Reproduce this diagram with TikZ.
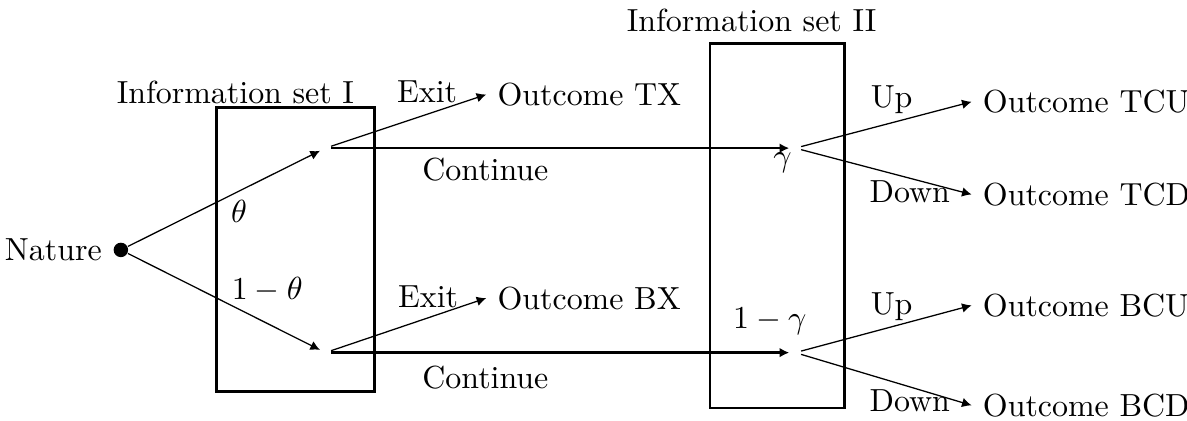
\documentclass[tikz,border=0pt]{standalone}
\usepackage{amsmath,amssymb}
\usepackage{tikz}
\usetikzlibrary{arrows.meta}
\tikzset{
  move/.style={-{Latex[length=3pt,width=3pt]},thin},
  cont/.style={-{Latex[length=3pt,width=3pt]},thick},
  infoset/.style={thick},
  decision/.style={circle,inner sep=1.2pt},
  outcome/.style={anchor=west}
}

\begin{document}
\begin{tikzpicture}
    \useasboundingbox (0,0) rectangle (13.06,4.63);
    % information sets
    \draw[infoset] (2.38,0.32) rectangle (4.12,3.45);
    \draw[infoset] (7.81,0.14) rectangle (9.29,4.15);
    \node at (2.59,3.61){Information set I};
    \node at (8.27,4.41){Information set II};
    % nodes
    \node[circle,fill,inner sep=1.6pt,label={left:Nature}] (nature) at (1.33,1.88){};
    \node[decision] (top) at (3.58,3.0){};
    \node[decision] (bot) at (3.58,0.75){};
    \node[decision] (gtop) at (8.75,3.0){};
    \node[decision] (gbot) at (8.75,0.75){};
    \node[outcome] (tx) at (5.35,3.59){Outcome TX};
    \node[outcome] (bx) at (5.35,1.35){Outcome BX};
    \node[outcome] (tcu) at (10.69,3.51){Outcome TCU};
    \node[outcome] (tcd) at (10.69,2.49){Outcome TCD};
    \node[outcome] (bcu) at (10.69,1.27){Outcome BCU};
    \node[outcome] (bcd) at (10.69,0.17){Outcome BCD};
    % moves
    \draw[move] (nature) -- (top);
    \draw[move] (nature) -- (bot);
    \draw[move] (top) -- (tx.west);
    \draw[move] (bot) -- (bx.west);
    \draw[cont] (top) -- (gtop);
    \draw[cont] (bot) -- (gbot);
    \draw[move] (gtop) -- (tcu.west);
    \draw[move] (gtop) -- (tcd.west);
    \draw[move] (gbot) -- (bcu.west);
    \draw[move] (gbot) -- (bcd.west);
    % labels
    \node at (2.63,2.3){$\theta$}; \node at (2.94,1.44){$1-\theta$};
    \node at (4.70,3.62){Exit}; \node at (4.71,1.36){Exit};
    \node at (5.34,2.76){Continue}; \node at (5.34,0.47){Continue};
    \node at (8.61,2.84){$\gamma$}; \node at (8.47,1.09){$1-\gamma$};
    \node at (9.81,3.53){Up}; \node at (10.01,2.52){Down};
    \node at (9.81,1.26){Up}; \node at (10.01,0.22){Down};
  \end{tikzpicture}
\end{document}
